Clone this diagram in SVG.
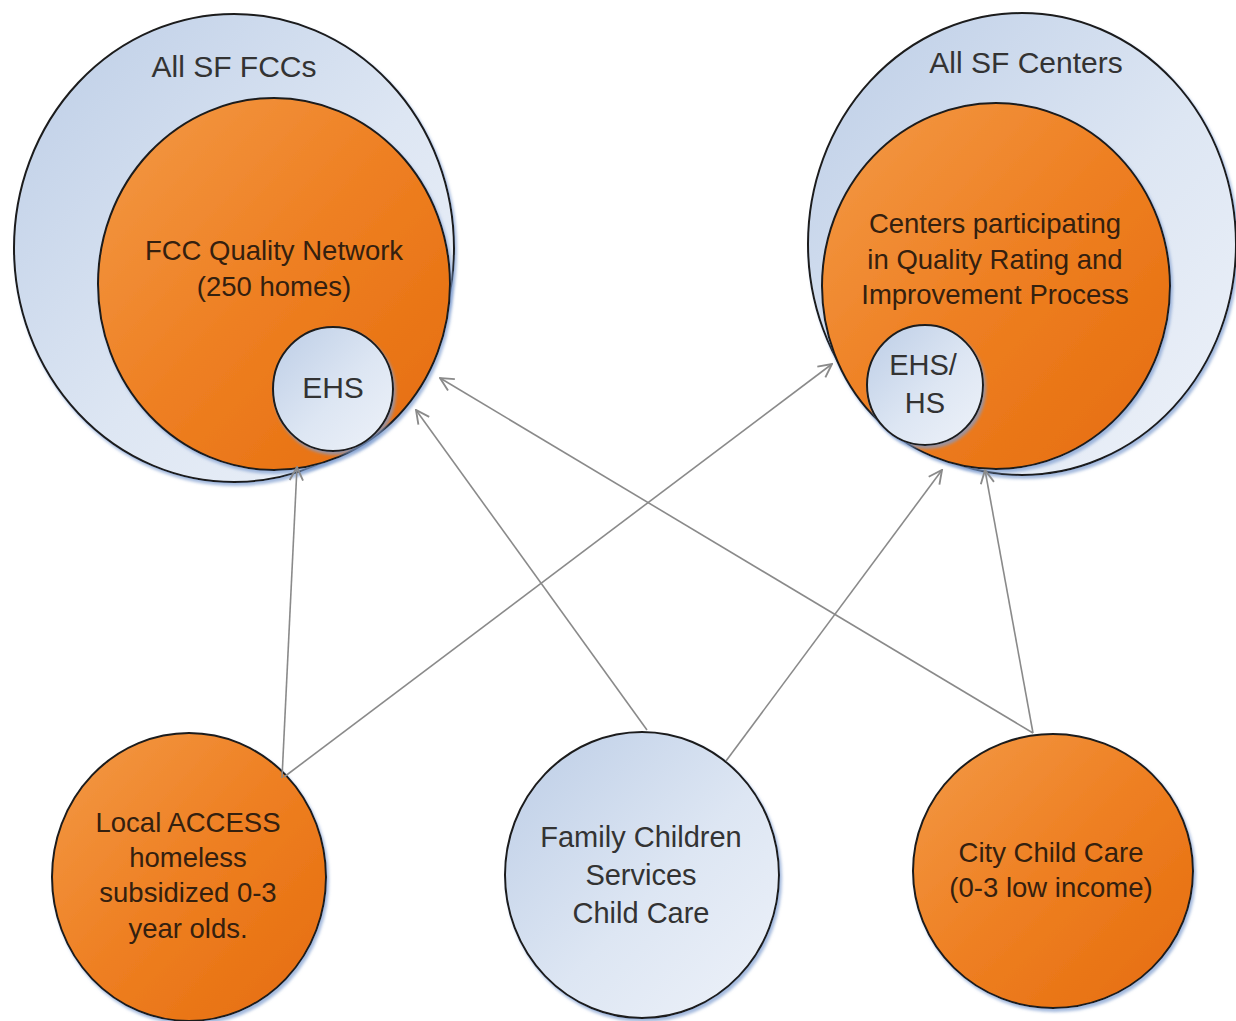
<svg xmlns="http://www.w3.org/2000/svg" width="1236" height="1021" viewBox="0 0 1236 1021">
  <style>
    .lbl { font-family: "Liberation Sans", Arial, sans-serif; text-anchor: middle; }
    .dark { fill: #333333; }
    .onorange { fill: #34200f; }
    .blue { fill: url(#gBlue); stroke: #1b1b1b; stroke-width: 2; filter: url(#sh); }
    .orange { fill: url(#gOrange); stroke: #1b1b1b; stroke-width: 2; filter: url(#sh); }
    .conn { stroke: #8a8a8a; stroke-width: 1.6; fill: none; marker-end: url(#arr); }
  </style>
  <defs>
    <linearGradient id="gBlue" x1="0" y1="0" x2="1" y2="1">
      <stop offset="0" stop-color="#bccde6"/>
      <stop offset="0.55" stop-color="#dde6f3"/>
      <stop offset="1" stop-color="#eef2f9"/>
    </linearGradient>
    <linearGradient id="gOrange" x1="0" y1="0" x2="1" y2="1">
      <stop offset="0" stop-color="#f39a47"/>
      <stop offset="0.5" stop-color="#ee7f22"/>
      <stop offset="1" stop-color="#e56c0c"/>
    </linearGradient>
    <filter id="sh" x="-10%" y="-10%" width="125%" height="125%">
      <feDropShadow dx="2" dy="3" stdDeviation="1.5" flood-color="#7d9ccf" flood-opacity="0.7"/>
    </filter>
    <marker id="arr" viewBox="0 0 12 12" refX="11" refY="6" markerWidth="16" markerHeight="16" orient="auto" markerUnits="userSpaceOnUse">
      <path d="M1,1 L11,6 L1,11" fill="none" stroke="#8a8a8a" stroke-width="1.4"/>
    </marker>
  </defs>
  <rect width="1236" height="1021" fill="#ffffff"/>

  <g id="all-sf-fccs">
    <ellipse class="blue" cx="234" cy="248" rx="220" ry="234"/>
    <text class="lbl dark" x="234" y="77" font-size="30">All SF FCCs</text>
  </g>
  <g id="fcc-quality-network">
    <ellipse class="orange" cx="274" cy="284" rx="176" ry="186"/>
    <text class="lbl onorange" x="274" y="260" font-size="27.5">FCC Quality Network</text>
    <text class="lbl onorange" x="274" y="296" font-size="27.5">(250 homes)</text>
  </g>
  <g id="ehs">
    <ellipse class="blue" cx="333" cy="389" rx="60" ry="62"/>
    <text class="lbl dark" x="333" y="398" font-size="30">EHS</text>
  </g>

  <g id="all-sf-centers">
    <ellipse class="blue" cx="1022" cy="244" rx="214" ry="231"/>
    <text class="lbl dark" x="1026" y="73" font-size="30">All SF Centers</text>
  </g>
  <g id="centers-qrip">
    <ellipse class="orange" cx="996" cy="286" rx="174" ry="183"/>
    <text class="lbl onorange" x="995" y="233" font-size="27.5">Centers participating</text>
    <text class="lbl onorange" x="995" y="269" font-size="27.5">in Quality Rating and</text>
    <text class="lbl onorange" x="995" y="304" font-size="27.5">Improvement Process</text>
  </g>
  <g id="ehs-hs">
    <ellipse class="blue" cx="925" cy="385" rx="58" ry="60"/>
    <text class="lbl dark" x="923" y="375" font-size="29">EHS/</text>
    <text class="lbl dark" x="925" y="413" font-size="29">HS</text>
  </g>

  <g id="local-access">
    <ellipse class="orange" cx="189" cy="877" rx="137" ry="144"/>
    <text class="lbl onorange" x="188" y="832" font-size="27.5">Local ACCESS</text>
    <text class="lbl onorange" x="188" y="867" font-size="27.5">homeless</text>
    <text class="lbl onorange" x="188" y="902" font-size="27.5">subsidized 0-3</text>
    <text class="lbl onorange" x="188" y="938" font-size="27.5">year olds.</text>
  </g>
  <g id="family-children-services">
    <ellipse class="blue" cx="642" cy="875" rx="137" ry="143"/>
    <text class="lbl dark" x="641" y="847" font-size="29">Family Children</text>
    <text class="lbl dark" x="641" y="885" font-size="29">Services</text>
    <text class="lbl dark" x="641" y="923" font-size="29">Child Care</text>
  </g>
  <g id="city-child-care">
    <ellipse class="orange" cx="1053" cy="871" rx="140" ry="137"/>
    <text class="lbl onorange" x="1051" y="862" font-size="27.5">City Child Care</text>
    <text class="lbl onorange" x="1051" y="897" font-size="27.5">(0-3 low income)</text>
  </g>

  <g id="connectors">
    <line class="conn" x1="282" y1="778" x2="297" y2="467"/>
    <line class="conn" x1="284" y1="777" x2="832" y2="364"/>
    <line class="conn" x1="647" y1="730" x2="416" y2="410"/>
    <line class="conn" x1="726" y1="761" x2="942" y2="470"/>
    <line class="conn" x1="1033" y1="733" x2="440" y2="378"/>
    <line class="conn" x1="1033" y1="733" x2="985" y2="470"/>
  </g>
</svg>
